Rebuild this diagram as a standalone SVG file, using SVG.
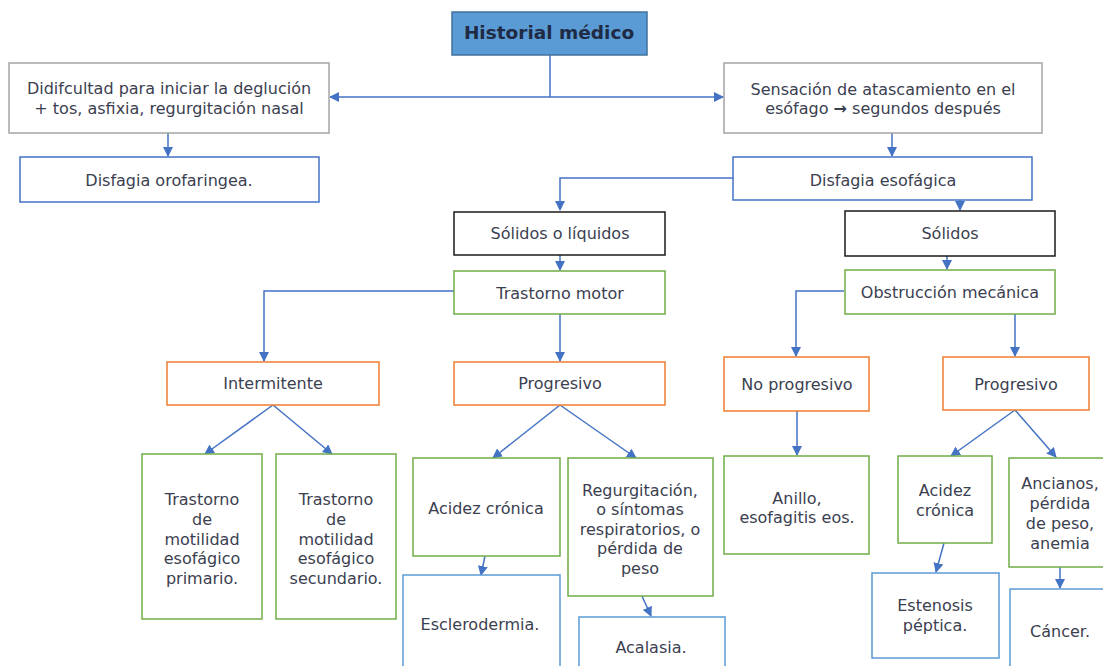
<svg xmlns="http://www.w3.org/2000/svg" width="1103" height="666" viewBox="0 0 1103 666">
<defs>
<marker id="ah" markerUnits="userSpaceOnUse" markerWidth="10" markerHeight="10" viewBox="0 0 10 10" refX="9" refY="5" orient="auto">
<path d="M0,0 L10,5 L0,10 z" fill="#4472c4"/>
</marker>
</defs>
<style>
.b{fill:#fff;stroke-width:1.5}
.gray{stroke:#a5a5a5}
.blue{stroke:#4472c4}
.lblue{stroke:#5b9bd5}
.blk{stroke:#1a1a1a}
.grn{stroke:#70ad47}
.org{stroke:#ed7d31}
text{font-family:"DejaVu Sans","Noto Sans",sans-serif;font-size:16px;fill:#3b4050;text-anchor:middle;dominant-baseline:central}
.c path{fill:none;stroke:#4472c4;stroke-width:1.5}
.c .a{marker-end:url(#ah)}
</style>
<rect width="1103" height="666" fill="#fff"/>
<g class="c" id="connectors">
<path d="M550,55 V97"/>
<path class="a" d="M550,97 H330"/>
<path class="a" d="M550,97 H723"/>
<path class="a" d="M168,133 V156"/>
<path class="a" d="M892,133 V156"/>
<path class="a" d="M733,178 H560 V210"/>
<path class="a" d="M960,200 V210"/>
<path class="a" d="M560,255 V270"/>
<path class="a" d="M454,291 H264 V361"/>
<path class="a" d="M560,314 V361"/>
<path class="a" d="M947,256 V269"/>
<path class="a" d="M844,291 H796 V356"/>
<path class="a" d="M1015,314 V356"/>
<path class="a" d="M273,405 L205,454"/>
<path class="a" d="M273,405 L332,454"/>
<path class="a" d="M560,405 L493,458"/>
<path class="a" d="M560,405 L636,458"/>
<path class="a" d="M797,411 V455"/>
<path class="a" d="M1015,410 L951,456"/>
<path class="a" d="M1015,410 L1056,457"/>
<path class="a" d="M485,556 L481,575"/>
<path class="a" d="M642,596 L651,616"/>
<path class="a" d="M944,543 L936,572"/>
<path class="a" d="M1060,567 V588"/>
</g>
<g id="historial">
<rect x="452" y="12" width="195" height="43" fill="#5b9bd5" stroke="#41719c" stroke-width="1.5"/>
<text x="549" y="32" style="font-weight:bold;font-size:18.5px;fill:#1f2a44">Historial médico</text>
</g>
<g id="dificultad">
<rect class="b gray" x="9" y="63" width="320" height="70"/>
<text x="169" y="88">Didifcultad para iniciar la deglución</text>
<text x="169" y="108">+ tos, asfixia, regurgitación nasal</text>
</g>
<g id="orofaringea">
<rect class="b blue" x="20" y="157" width="299" height="45"/>
<text x="169" y="180">Disfagia orofaringea.</text>
</g>
<g id="sensacion">
<rect class="b gray" x="724" y="63" width="318" height="70"/>
<text x="883" y="89">Sensación de atascamiento en el</text>
<text x="883" y="108">esófago <tspan style="font-weight:bold">→</tspan> segundos después</text>
</g>
<g id="esofagica">
<rect class="b blue" x="733" y="157" width="299" height="43"/>
<text x="883" y="180">Disfagia esofágica</text>
</g>
<g id="solidos-liquidos">
<rect class="b blk" x="454" y="212" width="211" height="43"/>
<text x="560" y="233">Sólidos o líquidos</text>
</g>
<g id="solidos">
<rect class="b blk" x="845" y="211" width="210" height="45"/>
<text x="950" y="233">Sólidos</text>
</g>
<g id="trastorno-motor">
<rect class="b grn" x="454" y="271" width="211" height="43"/>
<text x="560" y="293">Trastorno motor</text>
</g>
<g id="obstruccion">
<rect class="b grn" x="845" y="270" width="210" height="44"/>
<text x="950" y="292">Obstrucción mecánica</text>
</g>
<g id="intermitente">
<rect class="b org" x="167" y="362" width="212" height="43"/>
<text x="273" y="383">Intermitente</text>
</g>
<g id="progresivo-1">
<rect class="b org" x="454" y="362" width="211" height="43"/>
<text x="560" y="383">Progresivo</text>
</g>
<g id="no-progresivo">
<rect class="b org" x="724" y="357" width="145" height="54"/>
<text x="797" y="384">No progresivo</text>
</g>
<g id="progresivo-2">
<rect class="b org" x="943" y="357" width="146" height="53"/>
<text x="1016" y="384">Progresivo</text>
</g>
<g id="primario">
<rect class="b grn" x="142" y="454" width="120" height="165"/>
<text x="202" y="499">Trastorno</text>
<text x="202" y="519">de</text>
<text x="202" y="539">motilidad</text>
<text x="202" y="558">esofágico</text>
<text x="202" y="578">primario.</text>
</g>
<g id="secundario">
<rect class="b grn" x="276" y="454" width="120" height="165"/>
<text x="336" y="499">Trastorno</text>
<text x="336" y="519">de</text>
<text x="336" y="539">motilidad</text>
<text x="336" y="558">esofágico</text>
<text x="336" y="578">secundario.</text>
</g>
<g id="acidez-1">
<rect class="b grn" x="413" y="458" width="147" height="98"/>
<text x="486" y="508">Acidez crónica</text>
</g>
<g id="regurgitacion">
<rect class="b grn" x="568" y="458" width="145" height="138"/>
<text x="640" y="490">Regurgitación,</text>
<text x="640" y="509">o síntomas</text>
<text x="640" y="529">respiratorios, o</text>
<text x="640" y="548">pérdida de</text>
<text x="640" y="568">peso</text>
</g>
<g id="anillo">
<rect class="b grn" x="724" y="456" width="145" height="98"/>
<text x="797" y="498">Anillo,</text>
<text x="797" y="517">esofagitis eos.</text>
</g>
<g id="acidez-2">
<rect class="b grn" x="898" y="456" width="94" height="87"/>
<text x="945" y="490">Acidez</text>
<text x="945" y="510">crónica</text>
</g>
<g id="ancianos">
<rect class="b grn" x="1009" y="458" width="110" height="109"/>
<text x="1060" y="483">Ancianos,</text>
<text x="1060" y="503">pérdida</text>
<text x="1060" y="523">de peso,</text>
<text x="1060" y="543">anemia</text>
</g>
<g id="esclerodermia">
<rect class="b lblue" x="403" y="575" width="157" height="110"/>
<text x="480" y="624">Esclerodermia.</text>
</g>
<g id="acalasia">
<rect class="b lblue" x="579" y="617" width="146" height="70"/>
<text x="651" y="647">Acalasia.</text>
</g>
<g id="estenosis">
<rect class="b lblue" x="872" y="573" width="127" height="85"/>
<text x="935" y="605">Estenosis</text>
<text x="935" y="625">péptica.</text>
</g>
<g id="cancer">
<rect class="b lblue" x="1010" y="589" width="110" height="100"/>
<text x="1060" y="631">Cáncer.</text>
</g>
</svg>
